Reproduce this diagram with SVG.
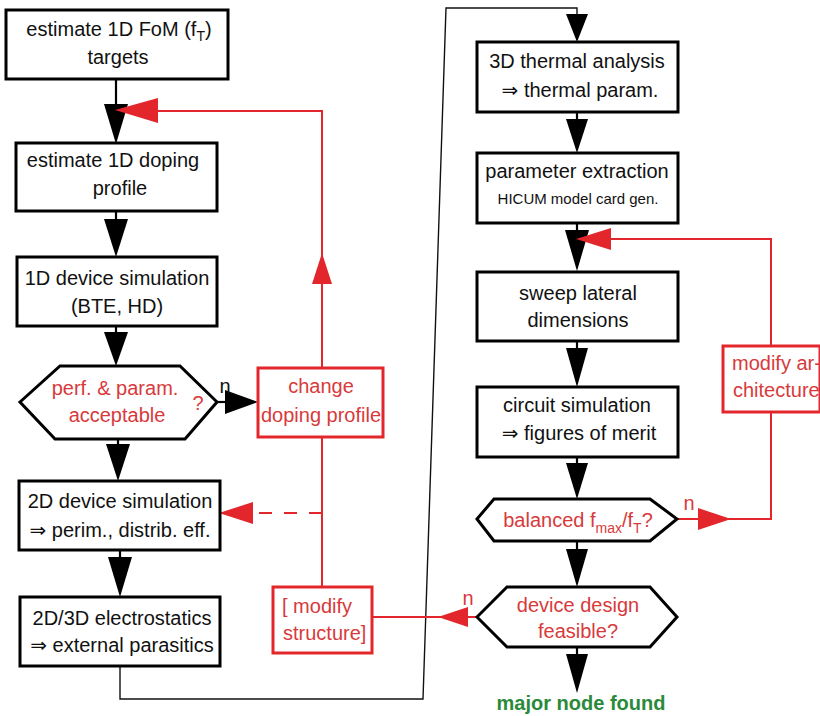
<svg xmlns="http://www.w3.org/2000/svg" width="820" height="716" viewBox="0 0 820 716">
<style>
.box{fill:#fff;stroke:#000;stroke-width:3}
.rbox{fill:#fff;stroke:#e3262b;stroke-width:3}
.t{font-family:"Liberation Sans",Arial,"DejaVu Sans",sans-serif;font-size:20px;fill:#111;text-anchor:middle}
.r{fill:#d83a3c}
.l{text-anchor:start}
.g{fill:#2a8a3a;font-weight:bold}
.s{font-size:15px}
.sub{font-size:14px}
.ln{fill:none;stroke:#000;stroke-width:2.2}
.thin{fill:none;stroke:#111;stroke-width:1.4}
.rl{fill:none;stroke:#e3262b;stroke-width:2}
.dash{stroke-dasharray:13 12}
.ah{fill:#000}
.rah{fill:#e3262b}
</style>
<rect width="820" height="716" fill="#fff"/>
<g id="connectors">
  <line class="ln" x1="116" y1="79" x2="116" y2="110"/>
  <polygon class="ah" points="104,104 128,104 116,144"/>
  <polyline class="rl" points="322,368 322,111 150,111"/>
  <polygon class="rah" points="158,98 158,123 115,110"/>
  <polygon class="rah" points="312,284 332,284 322,253"/>
  <line class="ln" x1="116" y1="211" x2="116" y2="225"/>
  <polygon class="ah" points="104,219 128,219 116,257"/>
  <line class="ln" x1="116" y1="326" x2="116" y2="338"/>
  <polygon class="ah" points="104,332 128,332 116,366"/>
  <line class="ln" x1="217" y1="402" x2="230" y2="402"/>
  <polygon class="ah" points="225,390 225,414 258,402"/>
  <line class="ln" x1="118" y1="439" x2="118" y2="450"/>
  <polygon class="ah" points="106,444 130,444 118,481"/>
  <line class="rl" x1="322" y1="437" x2="322" y2="587"/>
  <line class="rl dash" x1="322" y1="513" x2="248" y2="513"/>
  <polygon class="rah" points="253,502 253,524 219,513"/>
  <line class="ln" x1="120" y1="550" x2="120" y2="562"/>
  <polygon class="ah" points="108,557 132,557 120,597"/>
  <polyline class="thin" points="120,666 120,699 423,699 446,8 577,8 577,18"/>
  <polygon class="ah" points="566,14 588,14 577,42"/>
  <line class="ln" x1="577" y1="112" x2="577" y2="124"/>
  <polygon class="ah" points="566,119 588,119 577,153"/>
  <line class="ln" x1="577" y1="223" x2="577" y2="234"/>
  <polygon class="ah" points="565,230 589,230 577,271"/>
  <polyline class="rl" points="771,346 771,239 605,239"/>
  <polygon class="rah" points="611,228 611,250 576,239"/>
  <line class="ln" x1="577" y1="341" x2="577" y2="352"/>
  <polygon class="ah" points="566,348 588,348 577,387"/>
  <line class="ln" x1="577" y1="457" x2="577" y2="468"/>
  <polygon class="ah" points="566,463 588,463 577,499"/>
  <polyline class="rl" points="677,519 771,519 771,412"/>
  <polygon class="rah" points="698,508 698,530 731,519"/>
  <line class="ln" x1="577" y1="541" x2="577" y2="553"/>
  <polygon class="ah" points="566,549 588,549 577,587"/>
  <line class="rl" x1="477" y1="617" x2="372" y2="617"/>
  <polygon class="rah" points="468,607 468,627 438,617"/>
  <line class="ln" x1="577" y1="647" x2="577" y2="658"/>
  <polygon class="ah" points="566,654 588,654 577,693"/>
  <text class="t" x="225" y="393">n</text>
  <text class="t r" x="689" y="510">n</text>
  <text class="t r" x="468" y="605">n</text>
</g>
<g id="n1">
  <rect class="box" x="6" y="10" width="222" height="69"/>
  <text class="t" x="119" y="36">estimate 1D FoM (f<tspan class="sub" dy="5">T</tspan><tspan dy="-5">)</tspan></text>
  <text class="t" x="118" y="64">targets</text>
</g>
<g id="n2">
  <rect class="box" x="16" y="143" width="201" height="68"/>
  <text class="t" x="113" y="167">estimate 1D doping</text>
  <text class="t" x="120" y="195">profile</text>
</g>
<g id="n3">
  <rect class="box" x="17" y="257" width="200" height="69"/>
  <text class="t" x="117" y="285">1D device simulation</text>
  <text class="t" x="117" y="313">(BTE, HD)</text>
</g>
<g id="n4">
  <polygon class="box" points="20,402 60,366 180,366 217,402 185,439 55,439"/>
  <text class="t r" x="115" y="395">perf. &amp; param.</text>
  <text class="t r" x="117" y="422">acceptable</text>
  <text class="t r" x="198" y="410">?</text>
</g>
<g id="n5">
  <rect class="rbox" x="258" y="368" width="125" height="69"/>
  <text class="t r" x="321" y="393">change</text>
  <text class="t r" x="321" y="422">doping profile</text>
</g>
<g id="n6">
  <rect class="box" x="19" y="481" width="201" height="69"/>
  <text class="t" x="120" y="508">2D device simulation</text>
  <text class="t" x="120" y="537">⇒ perim., distrib. eff.</text>
</g>
<g id="n7">
  <rect class="box" x="20" y="597" width="200" height="69"/>
  <text class="t" x="122" y="625">2D/3D electrostatics</text>
  <text class="t" x="122" y="652">⇒ external parasitics</text>
</g>
<g id="n8">
  <rect class="rbox" x="273" y="587" width="99" height="66"/>
  <text class="t r l" x="282" y="613">[ modify</text>
  <text class="t r l" x="283" y="640">structure]</text>
</g>
<g id="n9">
  <rect class="box" x="477" y="42" width="201" height="70"/>
  <text class="t" x="577" y="68">3D  thermal analysis</text>
  <text class="t" x="580" y="97">⇒  thermal param.</text>
</g>
<g id="n10">
  <rect class="box" x="477" y="153" width="201" height="70"/>
  <text class="t" x="577" y="178">parameter extraction</text>
  <text class="t s" x="578" y="204">HICUM model card gen.</text>
</g>
<g id="n11">
  <rect class="box" x="477" y="272" width="201" height="69"/>
  <text class="t" x="578" y="300">sweep lateral</text>
  <text class="t" x="578" y="327">dimensions</text>
</g>
<g id="n12">
  <rect class="box" x="477" y="387" width="201" height="70"/>
  <text class="t" x="577" y="412">circuit simulation</text>
  <text class="t" x="579" y="440">⇒ figures of merit</text>
</g>
<g id="n13">
  <rect class="rbox" x="723" y="346" width="97" height="66"/>
  <text class="t r l" x="732" y="370">modify ar-</text>
  <text class="t r l" x="733" y="397">chitecture</text>
</g>
<g id="n14">
  <polygon class="box" points="477,519 494,499 650,499 677,519 650,541 494,541"/>
  <text class="t r" x="578" y="527">balanced f<tspan class="sub" dy="6">max</tspan><tspan dy="-6">/f</tspan><tspan class="sub" dy="6">T</tspan><tspan dy="-6">?</tspan></text>
</g>
<g id="n15">
  <polygon class="box" points="477,617 507,587 650,587 677,617 650,647 507,647"/>
  <text class="t r" x="578" y="612">device design</text>
  <text class="t r" x="578" y="638">feasible?</text>
</g>
<g id="n16">
  <text class="t g" x="581" y="710">major node found</text>
</g>
</svg>
